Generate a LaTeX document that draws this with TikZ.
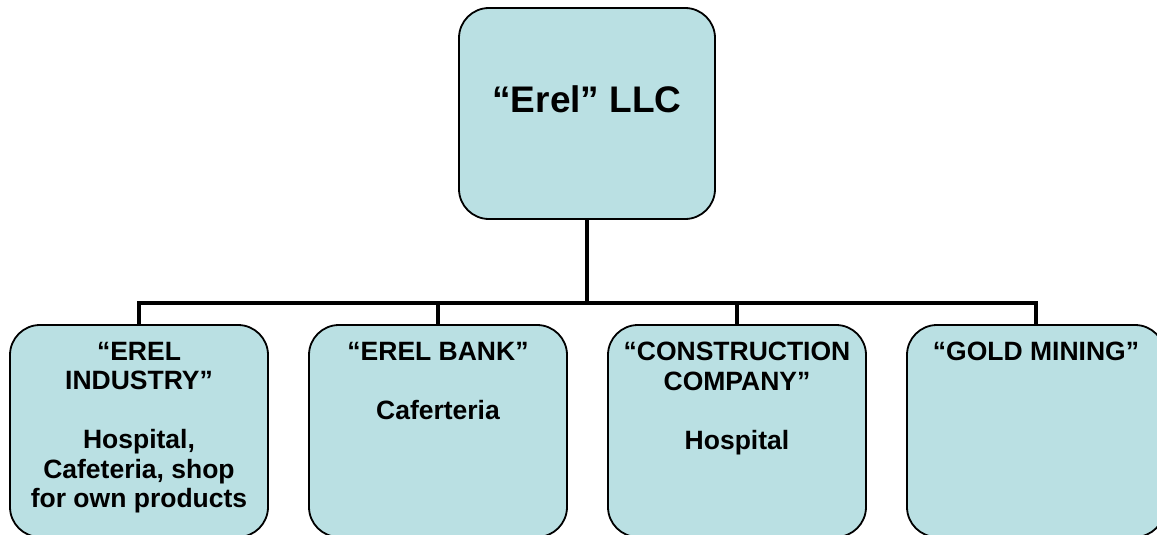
\documentclass[tikz,border=0pt]{standalone}
\usepackage{fontspec}
\setmainfont{Liberation Sans}
\definecolor{boxfill}{RGB}{186,224,227}
\begin{document}
\begin{tikzpicture}[x=1pt,y=-1pt,
  orgbox/.style={draw=black,line width=1.8pt,fill=boxfill,rounded corners=30pt,inner sep=0pt},
  childtext/.style={anchor=north,inner sep=0pt,align=center,font=\bfseries\fontsize{26.5}{29.5}\selectfont},
  link/.style={line width=4.5pt}]
\useasboundingbox (0,0) rectangle (1157,535);
% top box
\node[orgbox,minimum width=256pt,minimum height=211pt] (top) at (587,113.5) {};
\node[inner sep=0pt,font=\bfseries\fontsize{37}{44}\selectfont] (toplabel) at (587,99) {“Erel” LLC};
% children
\node[orgbox,minimum width=258pt,minimum height=212pt] (c1) at (139,431) {};
\node[orgbox,minimum width=258pt,minimum height=212pt] (c2) at (438,431) {};
\node[orgbox,minimum width=258pt,minimum height=212pt] (c3) at (737,431) {};
\node[orgbox,minimum width=258pt,minimum height=212pt] (c4) at (1036,431) {};
\node[childtext] (t1) at (139,342) {“EREL\\INDUSTRY”\\[29.5pt]Hospital,\\Cafeteria, shop\\for own products};
\node[childtext] (t2) at (438,342) {“EREL BANK”\\[29.5pt]Caferteria};
\node[childtext] (t3) at (737,342) {“CONSTRUCTION\\COMPANY”\\[29.5pt]Hospital};
\node[childtext] (t4) at (1036,342) {“GOLD MINING”};
% connectors
\coordinate (bus) at (587,303);
\draw[link] (top.south) -- (bus);
\draw[link,line cap=rect] (c1.north) -- (c1.north |- bus) -- (c4.north |- bus) -- (c4.north);
\draw[link] (c2.north) -- (c2.north |- bus);
\draw[link] (c3.north) -- (c3.north |- bus);
\end{tikzpicture}
\end{document}
